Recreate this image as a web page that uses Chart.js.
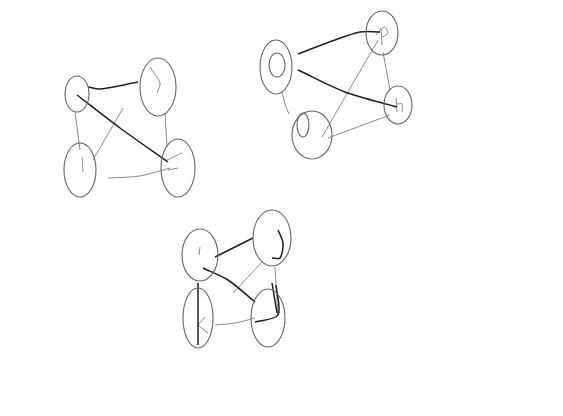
<!DOCTYPE html>
<html><head><meta charset="utf-8">
<script src="https://cdn.jsdelivr.net/npm/chart.js@4"></script>
<style>html,body{margin:0;padding:0;background:#fff}canvas{display:block}</style>
</head><body>
<canvas id="c" width="563" height="416"></canvas>
<script>
// Node centres and radii (three small graphs of four nodes each)
const nodeX  = [77, 158, 80, 178,   276, 382, 398, 312,   200, 272, 198, 268];
const nodeY  = [94, 87, 170, 168,   67, 33, 105, 135,     255, 238, 318, 318];
const nodeRX = [12, 18, 16, 17,     16, 16, 14, 20,       18, 19, 15, 17];
const nodeRY = [18, 29, 27, 29,     27, 22, 19, 24,       26, 28, 30, 29];

// small inner rings inside some nodes
const ringX  = [277, 303];
const ringY  = [65, 125];
const ringRX = [8, 6];
const ringRY = [12, 12];

// Dark (heavier) strokes: polylines [x1, y1, x2, y2, ...]
const darkEdges = [
  [88, 87, 100, 89, 138, 82],
  [77, 95, 120, 128, 168, 162],
  [298, 54, 335, 40, 360, 32, 380, 32],
  [298, 70, 345, 92, 397, 107],
  [203, 268, 228, 280, 255, 302],
  [198, 283, 198, 345],
  [215, 257, 253, 238],
  [278, 230, 283, 243, 280, 258, 272, 258],
  [272, 283, 277, 313],
  [255, 322, 278, 315, 276, 285]
];
// Light (grey) strokes
const greyEdges = [
  [165, 113, 167, 147],
  [75, 112, 80, 150],
  [123, 108, 93, 160],
  [108, 178, 140, 176, 170, 168],
  [322, 137, 378, 40],
  [328, 138, 390, 115],
  [383, 52, 390, 90],
  [282, 92, 285, 104, 289, 114],
  [233, 293, 262, 262],
  [215, 325, 235, 323, 255, 318],
  [275, 267, 278, 315],
  [150, 67, 160, 83, 157, 93],
  [82, 157, 83, 172],
  [167, 160, 182, 153],
  [168, 170, 178, 168],
  [381, 28, 382, 45],
  [376, 35, 384, 27, 388, 33, 381, 38],
  [396, 98, 397, 112],
  [397, 104, 402, 104, 402, 112],
  [200, 247, 199, 255],
  [198, 325, 208, 333],
  [198, 325, 205, 317]
];

function segs(list){
  const out=[];
  list.forEach(e=>{
    for(let i=0;i<e.length;i+=2) out.push({x:e[i],y:e[i+1]});
    out.push({x:null,y:null});
  });
  return out;
}
const nodes = nodeX.map((x,i)=>({x:x,y:nodeY[i],rx:nodeRX[i],ry:nodeRY[i]}));
const rings = ringX.map((x,i)=>({x:x,y:ringY[i],rx:ringRX[i],ry:ringRY[i]}));

const ellipsePlugin = {
  id:'ellipses',
  afterDatasetsDraw(chart){
    const ctx=chart.ctx, xs=chart.scales.x, ys=chart.scales.y;
    ctx.save();
    ctx.strokeStyle='#666';
    ctx.lineWidth=1.1;
    [[2,nodes],[3,rings]].forEach(([idx,src])=>{
      const meta=chart.getDatasetMeta(idx);
      meta.data.forEach((pt,i)=>{
        const d=src[i];
        const rx=Math.abs(xs.getPixelForValue(d.x+d.rx)-pt.x);
        const ry=Math.abs(ys.getPixelForValue(d.y+d.ry)-pt.y);
        ctx.beginPath();
        ctx.ellipse(pt.x,pt.y,rx,ry,0,0,Math.PI*2);
        ctx.stroke();
      });
    });
    ctx.restore();
  }
};

new Chart(document.getElementById('c'),{
  type:'scatter',
  data:{datasets:[
    {label:'dark',data:segs(darkEdges),showLine:true,spanGaps:false,borderColor:'#1e1e1e',borderWidth:1.5,pointRadius:0,tension:0.3},
    {label:'grey',data:segs(greyEdges),showLine:true,spanGaps:false,borderColor:'#8a8a8a',borderWidth:1,pointRadius:0,tension:0.3},
    {label:'nodes',data:nodes,pointRadius:0,showLine:false},
    {label:'rings',data:rings,pointRadius:0,showLine:false}
  ]},
  options:{
    responsive:false,animation:false,
    layout:{padding:0},
    plugins:{legend:{display:false},tooltip:{enabled:false}},
    scales:{
      x:{type:'linear',min:0,max:563,display:false},
      y:{type:'linear',min:0,max:416,reverse:true,display:false}
    }
  },
  plugins:[ellipsePlugin]
});
</script>
</body></html>
